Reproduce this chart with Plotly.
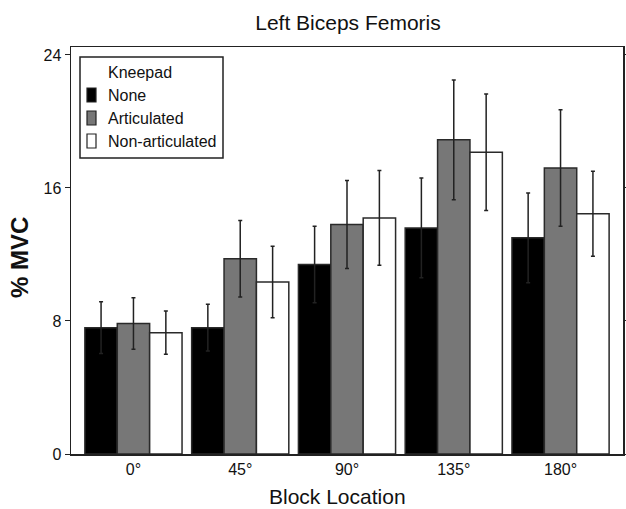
import plotly.graph_objects as go

categories = ["0°", "45°", "90°", "135°", "180°"]
series_names = ["None", "Articulated", "Non-articulated"]
none_vals = [7.6, 7.6, 11.4, 13.6, 13.0]
none_err = [1.55, 1.4, 2.3, 3.0, 2.7]
art_vals = [7.85, 11.75, 13.8, 18.9, 17.2]
art_err = [1.55, 2.3, 2.65, 3.6, 3.5]
non_vals = [7.3, 10.35, 14.2, 18.15, 14.45]
non_err = [1.3, 2.15, 2.85, 3.5, 2.55]
colors = ["#000000", "#777777", "#ffffff"]
legend_title = "Kneepad"

W, H = 626, 509
ML, MR, MT, MB = 71, 3, 47, 55
PW, PH = W - ML - MR, H - MT - MB


def px(x):
    return (x - ML) / PW


def py(y):
    return (H - MB - y) / PH


fig = go.Figure()
for name, vals, errs, col in zip(series_names, [none_vals, art_vals, non_vals],
                                 [none_err, art_err, non_err], colors):
    fig.add_trace(go.Bar(
        name=name, x=categories, y=vals, showlegend=False, hoverinfo="skip",
        marker=dict(color=col, line=dict(color="#2a2a2a", width=1.5)),
        error_y=dict(type="data", array=errs, visible=True, color="#222222",
                     thickness=1.5, width=2),
    ))

shapes = [dict(type="rect", xref="paper", yref="paper",
               x0=px(80), x1=px(223), y0=py(158), y1=py(57),
               line=dict(color="#222222", width=1.5), fillcolor="white", layer="above")]
annotations = [dict(text=legend_title, xref="paper", yref="paper", x=px(106), y=py(72),
                    xanchor="left", yanchor="middle", showarrow=False, font=dict(size=16))]
for i, (name, col) in enumerate(zip(series_names, colors)):
    cy = 95 + 23 * i
    shapes.append(dict(type="rect", xref="paper", yref="paper",
                       x0=px(87), x1=px(96), y0=py(cy + 7), y1=py(cy - 7),
                       line=dict(color="#222222", width=1.2), fillcolor=col, layer="above"))
    annotations.append(dict(text=name, xref="paper", yref="paper", x=px(106), y=py(cy),
                            xanchor="left", yanchor="middle", showarrow=False,
                            font=dict(size=16)))

annotations.append(dict(text="Block Location", xref="paper", yref="paper",
                        x=px(337), y=py(496), xanchor="center", yanchor="middle",
                        showarrow=False, font=dict(size=21)))
annotations.append(dict(text="<b>% MVC</b>", xref="paper", yref="paper",
                        x=px(19), y=py(258), xanchor="center", yanchor="middle",
                        textangle=-90, showarrow=False, font=dict(size=24)))

fig.update_layout(
    width=W, height=H,
    margin=dict(l=ML, r=MR, t=MT, b=MB),
    paper_bgcolor="white", plot_bgcolor="white",
    font=dict(family="Liberation Sans, Arial, sans-serif", color="#111111", size=16),
    title=dict(text="Left Biceps Femoris", x=px(348), xanchor="center", xref="paper",
               y=1 - 23 / H, yanchor="middle", yref="container", font=dict(size=21)),
    barmode="group", bargap=0.09, bargroupgap=0,
    showlegend=False,
    hovermode=False,
    shapes=shapes,
    annotations=annotations,
    xaxis=dict(
        range=[-0.585, 4.585], showline=True, linecolor="#222222", linewidth=1.5,
        mirror=True, ticks="", showgrid=False, zeroline=False, automargin=False,
        tickfont=dict(size=16),
    ),
    yaxis=dict(
        range=[0, 24.48], tickvals=[0, 8, 16, 24], showline=True,
        linecolor="#222222", linewidth=1.5, mirror="ticks", ticks="outside",
        ticklen=5, tickcolor="#222222", showgrid=False, zeroline=False,
        automargin=False, tickfont=dict(size=16),
    ),
)

fig.write_html("out.html", config={"displayModeBar": False, "staticPlot": True},
               post_script="document.body.style.margin='0';document.body.style.overflow='hidden';")
